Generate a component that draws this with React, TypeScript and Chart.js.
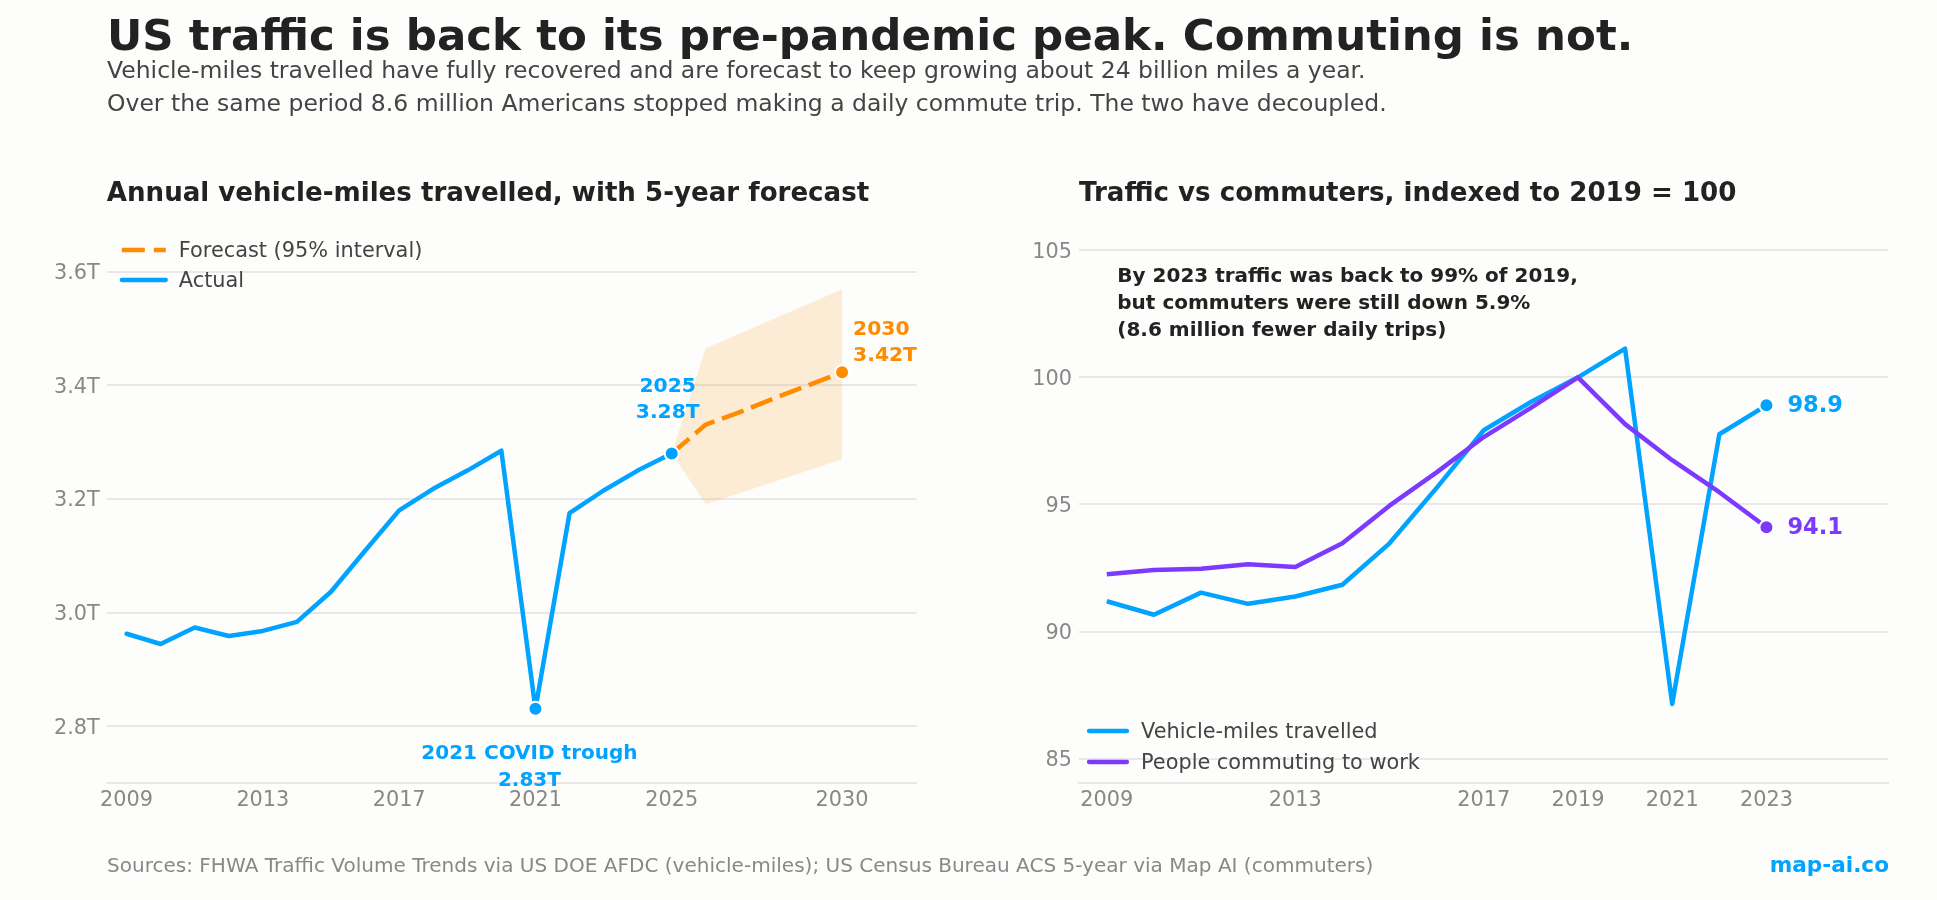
import { useEffect, useRef } from "react";
import { Chart, registerables } from "chart.js";
import type { ChartConfiguration, Plugin } from "chart.js";

Chart.register(...registerables);

const FONT = "'DejaVu Sans', sans-serif";
const BLUE = "#00a3ff";
const ORANGE = "#ff8c00";
const PURPLE = "#7c3aff";
const DARK = "#222222";
const GRID = "#e8e8e8";

// annual vehicle-miles, trillions
const actualYears = [2009, 2010, 2011, 2012, 2013, 2014, 2015, 2016, 2017, 2018, 2019, 2020, 2021, 2022, 2023, 2024, 2025];
const actualVmt = [2.963, 2.945, 2.974, 2.959, 2.968, 2.984, 3.037, 3.109, 3.18, 3.218, 3.25, 3.285, 2.831, 3.175, 3.215, 3.25, 3.28];
const forecastYears = [2025, 2026, 2027, 2028, 2029, 2030];
const forecastVmt = [3.28, 3.331, 3.353, 3.377, 3.4, 3.423];
const bandYears = [2025, 2026, 2030];
const bandHigh = [3.28, 3.465, 3.569];
const bandLow = [3.28, 3.191, 3.27];
const vmtXTicks = [2009, 2013, 2017, 2021, 2025, 2030];
const vmtYTicks = [2.8, 3.0, 3.2, 3.4, 3.6];

// index, 2019 = 100
const indexYears = [2009, 2010, 2011, 2012, 2013, 2014, 2015, 2016, 2017, 2018, 2019, 2020, 2021, 2022, 2023];
const trafficIndex = [91.19, 90.66, 91.53, 91.09, 91.38, 91.84, 93.47, 95.65, 97.92, 99.03, 100, 101.13, 87.15, 97.76, 98.9];
const commuterIndex = [92.25, 92.42, 92.47, 92.65, 92.54, 93.47, 94.95, 96.26, 97.65, 98.8, 100, 98.16, 96.74, 95.48, 94.1];
const indexXTicks = [2009, 2013, 2017, 2019, 2021, 2023];
const indexYTicks = [85, 90, 95, 100, 105];

function points(xs: number[], ys: number[]) {
  return xs.map((x, i) => ({ x, y: ys[i] }));
}

type Note = { lines: string[]; x: number; y: number; dx: number; dy: number; color: string; align: CanvasTextAlign; size?: number };
type LegendRow = { label: string; color: string; dash?: number[] };

// labels and legend are anchored on data values, offsets in px
const textPlugin: Plugin = {
  id: "notes",
  afterDraw(chart, _args, opts: any) {
    const { ctx } = chart;
    ctx.save();
    ctx.textBaseline = "middle";
    for (const note of opts.notes as Note[]) {
      ctx.font = `bold ${note.size ?? 20}px ${FONT}`;
      ctx.fillStyle = note.color;
      ctx.textAlign = note.align;
      const px = chart.scales.x.getPixelForValue(note.x) + note.dx;
      const py = chart.scales.y.getPixelForValue(note.y) + note.dy;
      note.lines.forEach((line, i) => ctx.fillText(line, px, py + i * (opts.lineStep ?? 26.5)));
    }
    const area = chart.chartArea;
    (opts.legend as LegendRow[]).forEach((row, i) => {
      const y = opts.legendY + i * opts.legendStep;
      const x0 = area.left + opts.legendX;
      ctx.beginPath();
      ctx.strokeStyle = row.color;
      ctx.lineWidth = 4.3;
      ctx.lineCap = row.dash ? "butt" : "round";
      ctx.setLineDash(row.dash ?? []);
      ctx.moveTo(x0, y);
      ctx.lineTo(x0 + opts.legendLen, y);
      ctx.stroke();
      ctx.setLineDash([]);
      ctx.font = `20.85px ${FONT}`;
      ctx.fillStyle = "#444444";
      ctx.textAlign = "left";
      ctx.fillText(row.label, x0 + opts.legendLen + opts.legendGap, y + 1.5);
    });
    ctx.restore();
  },
};

function endMarkers(...idx: number[]) {
  return (c: any) => (idx.includes(c.dataIndex) ? 7 : 0);
}

function lineSet(label: string, data: any, color: string, extra: any = {}) {
  return {
    label,
    data,
    borderColor: color,
    backgroundColor: color,
    borderWidth: 4.5,
    tension: 0,
    pointRadius: 0,
    pointBorderColor: "#ffffff",
    pointBorderWidth: 2,
    pointBackgroundColor: color,
    borderJoinStyle: "round",
    ...extra,
  };
}

function baseOptions(o: {
  title: string; xMin: number; xMax: number; yMin: number; yMax: number; xTicks: number[]; yTicks: number[];
  yLabel: (v: number) => string; axisWidth: number; padRight: number; notes: any;
}): any {
  return {
    animation: false,
    responsive: false,
    devicePixelRatio: 1,
    layout: { padding: { right: o.padRight, left: 0, top: 0, bottom: 0 } },
    plugins: {
      legend: { display: false },
      tooltip: { enabled: false },
      title: {
        display: true,
        text: o.title,
        align: "start",
        fullSize: false,
        color: DARK,
        font: { family: FONT, size: 26.1, weight: "bold", lineHeight: "30px" },
        padding: { top: 179, bottom: 18.6 },
      },
      notes: o.notes,
    },
    scales: {
      x: {
        type: "linear",
        min: o.xMin,
        max: o.xMax,
        afterBuildTicks: (s: any) => { s.ticks = o.xTicks.map((value) => ({ value })); },
        afterFit: (s: any) => { s.height = 116.7; },
        grid: { display: false, drawTicks: false },
        border: { display: true, color: GRID, width: 2 },
        ticks: {
          autoSkip: false, maxRotation: 0, padding: 5, color: "#888888",
          font: { family: FONT, size: 20.8 },
          callback: (v: any) => String(v),
        },
      },
      y: {
        min: o.yMin,
        max: o.yMax,
        afterBuildTicks: (s: any) => { s.ticks = o.yTicks.map((value) => ({ value })); },
        afterFit: (s: any) => { s.width = o.axisWidth; },
        grid: { color: GRID, lineWidth: 2, drawTicks: false },
        border: { display: false },
        ticks: {
          padding: 7, color: "#888888", labelOffset: 2,
          font: { family: FONT, size: 20.8 },
          callback: (v: any) => o.yLabel(v),
        },
      },
    },
  };
}

const vmtConfig: ChartConfiguration = {
  type: "line",
  data: {
    datasets: [
      lineSet("Actual", points(actualYears, actualVmt), BLUE, { order: 1, pointRadius: endMarkers(12, 16), borderCapStyle: "round" }),
      lineSet("Forecast (95% interval)", points(forecastYears, forecastVmt), ORANGE, { order: 2, borderDash: [23, 8], pointRadius: endMarkers(5) }),
      { label: "high", data: points(bandYears, bandHigh), borderWidth: 0, pointRadius: 0, backgroundColor: "rgba(255,140,0,0.15)", fill: "+1", tension: 0, order: 3 },
      { label: "low", data: points(bandYears, bandLow), borderWidth: 0, pointRadius: 0, fill: false, tension: 0, order: 4 },
    ] as any,
  },
  options: baseOptions({
    title: "Annual vehicle-miles travelled, with 5-year forecast",
    xMin: 2008.42, xMax: 2032.19, yMin: 2.7, yMax: 3.6774,
    xTicks: vmtXTicks, yTicks: vmtYTicks,
    yLabel: (v) => v.toFixed(1) + "T",
    axisWidth: 106.8, padRight: 51.3,
    notes: {
      lineStep: 26.5,
      notes: [
        { lines: ["2025", "3.28T"], x: 2025, y: 3.28, dx: -4, dy: -67, color: BLUE, align: "center", size: 20.3 },
        { lines: ["2030", "3.42T"], x: 2030, y: 3.423, dx: 11, dy: -43, color: ORANGE, align: "left", size: 20.3 },
        { lines: ["2021 COVID trough", "2.83T"], x: 2021, y: 2.831, dx: -6, dy: 45, color: BLUE, align: "center" },
      ],
      legend: [
        { label: "Forecast (95% interval)", color: ORANGE, dash: [23, 9] },
        { label: "Actual", color: BLUE },
      ],
      legendX: 15, legendY: 250, legendStep: 30, legendLen: 44, legendGap: 13,
    },
  }),
  plugins: [textPlugin],
};

const indexConfig: ChartConfiguration = {
  type: "line",
  data: {
    datasets: [
      lineSet("People commuting to work", points(indexYears, commuterIndex), PURPLE, { order: 1, pointRadius: endMarkers(14) }),
      lineSet("Vehicle-miles travelled", points(indexYears, trafficIndex), BLUE, { order: 2, pointRadius: endMarkers(14) }),
    ] as any,
  },
  options: baseOptions({
    title: "Traffic vs commuters, indexed to 2019 = 100",
    xMin: 2008.41, xMax: 2025.58, yMin: 84.03, yMax: 105.89,
    xTicks: indexXTicks, yTicks: indexYTicks,
    yLabel: (v) => String(v),
    axisWidth: 111, padRight: 48,
    notes: {
      lineStep: 27,
      notes: [
        { lines: ["98.9"], x: 2023, y: 98.9, dx: 21, dy: 1, color: BLUE, align: "left", size: 22.5 },
        { lines: ["94.1"], x: 2023, y: 94.1, dx: 21, dy: 0.5, color: PURPLE, align: "left", size: 22.5 },
        { lines: ["By 2023 traffic was back to 99% of 2019,", "but commuters were still down 5.9%", "(8.6 million fewer daily trips)"], x: 2009, y: 105, dx: 10.5, dy: 26.5, color: DARK, align: "left", size: 20 },
      ],
      legend: [
        { label: "Vehicle-miles travelled", color: BLUE },
        { label: "People commuting to work", color: PURPLE },
      ],
      legendX: 10, legendY: 731, legendStep: 31, legendLen: 38, legendGap: 14,
    },
  }),
  plugins: [textPlugin],
};

function Panel({ config, left }: { config: ChartConfiguration; left: number }) {
  const canvasRef = useRef<HTMLCanvasElement>(null);

  useEffect(() => {
    if (!canvasRef.current) return;
    const chart = new Chart(canvasRef.current, config);
    return () => chart.destroy();
  }, [config]);

  return <canvas ref={canvasRef} width={968} height={900} style={{ position: "absolute", left, top: 0, width: 968, height: 900 }} />;
}

function Line({ top, size, color, bold, children, right }: any) {
  return (
    <div
      style={{
        position: "absolute", top: top - 25, height: 50, lineHeight: "50px",
        left: right ? undefined : 107, right: right ? 1937 - 1889 : undefined,
        fontFamily: FONT, fontSize: size, color, fontWeight: bold ? "bold" : "normal", whiteSpace: "nowrap",
      }}
    >
      {children}
    </div>
  );
}

export default function App() {
  return (
    <div style={{ position: "absolute", left: 0, top: 0, width: 1937, height: 900, overflow: "hidden", background: "#fdfdfb" }}>
      <Panel config={vmtConfig} left={0} />
      <Panel config={indexConfig} left={968} />
      <Line top={35} size={43.5} color={DARK} bold>US traffic is back to its pre-pandemic peak. Commuting is not.</Line>
      <Line top={70} size={23.5} color="#444444">Vehicle-miles travelled have fully recovered and are forecast to keep growing about 24 billion miles a year.</Line>
      <Line top={103} size={23.5} color="#444444">Over the same period 8.6 million Americans stopped making a daily commute trip. The two have decoupled.</Line>
      <Line top={865} size={20.04} color="#888888">Sources: FHWA Traffic Volume Trends via US DOE AFDC (vehicle-miles); US Census Bureau ACS 5-year via Map AI (commuters)</Line>
      <Line top={865} size={21.6} color={BLUE} bold right>map-ai.co</Line>
    </div>
  );
}
